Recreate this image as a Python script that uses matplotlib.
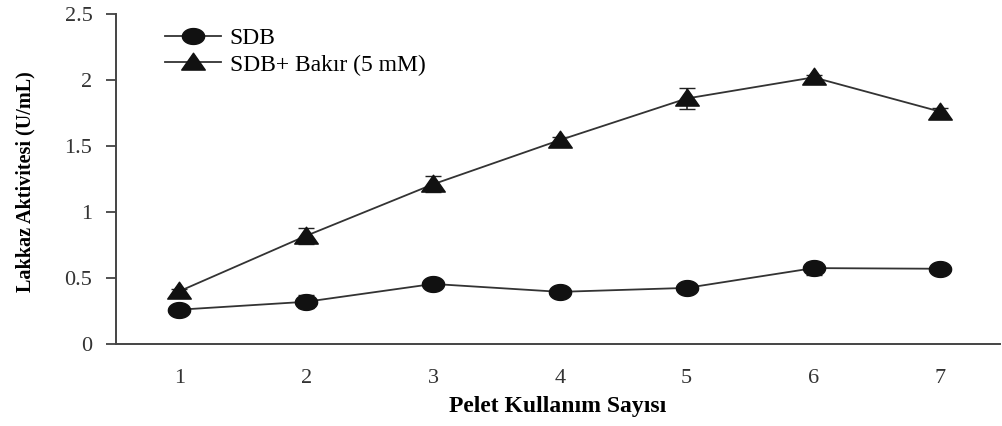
import numpy as np
import matplotlib
matplotlib.use("Agg")
import matplotlib.pyplot as plt
from matplotlib.path import Path

# Data
pelet = [1, 2, 3, 4, 5, 6, 7]
sdb = [0.26, 0.32, 0.455, 0.395, 0.425, 0.575, 0.57]
sdb_err = [0.02, 0.05, 0.02, 0.02, 0.02, 0.05, 0.02]
sdb_cu = [0.40, 0.82, 1.21, 1.545, 1.86, 2.02, 1.76]
sdb_cu_err = [0.02, 0.06, 0.06, 0.02, 0.08, 0.02, 0.03]

plt.rcParams["font.family"] = ["Liberation Serif", "DejaVu Serif"]

# stretched markers (the original figure is wider than tall)
t = np.linspace(0, 2 * np.pi, 60)
ellipse = Path(np.column_stack([1.4 * np.cos(t), np.sin(t)]), closed=True)
tri = Path([(-1.4, -0.9), (1.4, -0.9), (0, 1.1), (-1.4, -0.9)], closed=True)

fig = plt.figure(figsize=(10.02, 4.26), dpi=100)
ax = fig.add_axes([116 / 1002, 82 / 426, 884 / 1002, 330 / 426])

# error bars first, then lines with markers
ax.errorbar(pelet, sdb, yerr=sdb_err, fmt="none", ecolor="#222222",
            capsize=6, elinewidth=1.2)
ax.errorbar(pelet, sdb_cu, yerr=sdb_cu_err, fmt="none", ecolor="#222222",
            capsize=6, elinewidth=1.2)
ax.plot(pelet, sdb, color="#333333", lw=1.3, marker=ellipse, ms=16,
        mfc="#111111", mec="#111111", label="SDB")
ax.plot(pelet, sdb_cu, color="#333333", lw=1.3, marker=tri, ms=17,
        mfc="#111111", mec="#111111", label="SDB+ Bakır (5 mM)")

ax.set_xlim(0.5, 7.47)
ax.set_ylim(0, 2.5)
ax.set_xticks(pelet)
ax.set_yticks([0, 0.5, 1, 1.5, 2, 2.5])
ax.set_yticklabels(["0", "0.5", "1", "1.5", "2", "2.5"])
ax.tick_params(axis="x", length=0, pad=18, labelsize=16, colors="#333333")
ax.tick_params(axis="y", length=7, width=1.2, pad=10, labelsize=16, colors="#333333")
for s in ["top", "right"]:
    ax.spines[s].set_visible(False)
for s in ["left", "bottom"]:
    ax.spines[s].set_linewidth(1.4)
    ax.spines[s].set_color("#444444")

ax.set_xlabel("Pelet Kullanım Sayısı", fontsize=17, fontweight="bold", labelpad=6)
fig.text(25 / 1002, 1 - 182 / 426, "Lakkaz Aktivitesi (U/mL)", rotation=90,
         fontsize=14.5, fontweight="bold", ha="center", va="center")

ax.legend(loc="upper left", bbox_to_anchor=(153 / 1002, 1 - 16 / 426),
          bbox_transform=fig.transFigure, frameon=False, fontsize=17,
          handlelength=2.4, handletextpad=0.35, labelspacing=0.2,
          borderpad=0)

fig.savefig("out.png", dpi=100)
